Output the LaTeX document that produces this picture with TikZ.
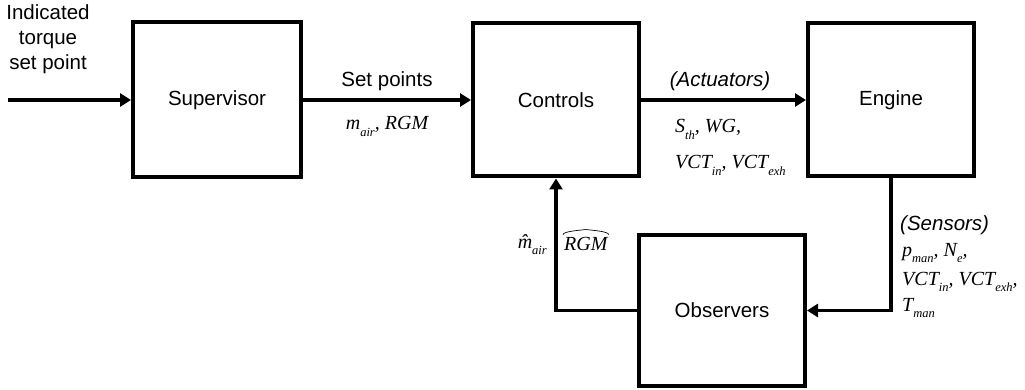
\documentclass[tikz,border=0pt]{standalone}
\usepackage{fontspec}
\setmainfont{Liberation Sans}
\newfontfamily\tms{Liberation Serif}
\usetikzlibrary{arrows.meta}
\newcommand\tv[1]{{\tms\itshape #1}}
\newcommand\sbs[1]{\raisebox{-0.6ex}{\fontsize{12.5}{12.5}\selectfont\tms\itshape #1}}
\begin{document}
\begin{tikzpicture}[x=1pt,y=-1pt,
  blk/.style={draw,line width=4pt,minimum width=166pt,minimum height=153pt,inner sep=0pt,font=\fontsize{20.5}{24}\selectfont},
  arr/.style={line width=3.5pt,-{Triangle[length=11pt,width=13pt]}},
  lbl/.style={inner sep=0pt,font=\fontsize{20.5}{24}\selectfont},
  mth/.style={inner sep=0pt,font=\fontsize{20}{24}\selectfont}]
\useasboundingbox (0,0) rectangle (1025,390);
\node[blk,minimum width=168pt,minimum height=155pt] (sup) at (217,100) {Supervisor};
\node[blk] (ctl) at (556,100) {Controls};
\node[blk] (eng) at (891,100) {Engine};
\node[blk,minimum height=151pt] (obs) at (722,310.5) {Observers};
\coordinate (in) at (8,100);
\draw[arr] (in) -- (sup);
\draw[arr] (sup) -- (ctl);
\draw[arr] (ctl) -- (eng);
\draw[arr] (eng.south) |- (obs.east);
\draw[arr] (obs.west) -| (ctl.south);
% input label
\node[lbl,anchor=base] (l1) at (48,20) {Indicated};
\node[lbl,anchor=base] (l2) at (48,45) {torque};
\node[lbl,anchor=base] (l3) at (48,70) {set point};
% set points
\node[lbl,anchor=base] (sp) at (387,87) {Set points};
\node[mth,anchor=base] (spm) at (387,130) {\tv{m}\sbs{air}\tv{, RGM}};
% actuators
\node[lbl,anchor=base,font=\fontsize{20.5}{24}\selectfont\itshape] (act) at (720,87) {(Actuators)};
\node[mth,anchor=base west] (a1) at (675,133) {\tv{S}\sbs{th}\tv{, WG,}};
\node[mth,anchor=base west] (a2) at (675,169) {\tv{VCT}\sbs{in}\tv{, VCT}\sbs{exh}};
% feedback labels
\node[mth,anchor=base east] (f1) at (547,248) {\tv{\^{m}}\sbs{air}};
\node[mth,anchor=base west] (f2) at (564,250) {\tv{RGM}};
\draw[line width=0.7pt] ([xshift=-1pt,yshift=2pt]f2.north west) .. controls ([yshift=5pt]f2.north west) and ([xshift=-10pt,yshift=6pt]f2.north) .. ([yshift=7pt]f2.north)
  .. controls ([xshift=10pt,yshift=6pt]f2.north) and ([yshift=5pt]f2.north east) .. ([xshift=1pt,yshift=2pt]f2.north east);
% sensors
\node[lbl,anchor=base west,font=\fontsize{20.5}{24}\selectfont\itshape] (sen) at (900,230) {(Sensors)};
\node[mth,anchor=base west] (s1) at (902,256) {\tv{p}\sbs{man}\tv{, N}\sbs{e}\tv{,}};
\node[mth,anchor=base west] (s2) at (902,285) {\tv{VCT}\sbs{in}\tv{, VCT}\sbs{exh}\tv{,}};
\node[mth,anchor=base west] (s3) at (902,311) {\tv{T}\sbs{man}};
\end{tikzpicture}
\end{document}
